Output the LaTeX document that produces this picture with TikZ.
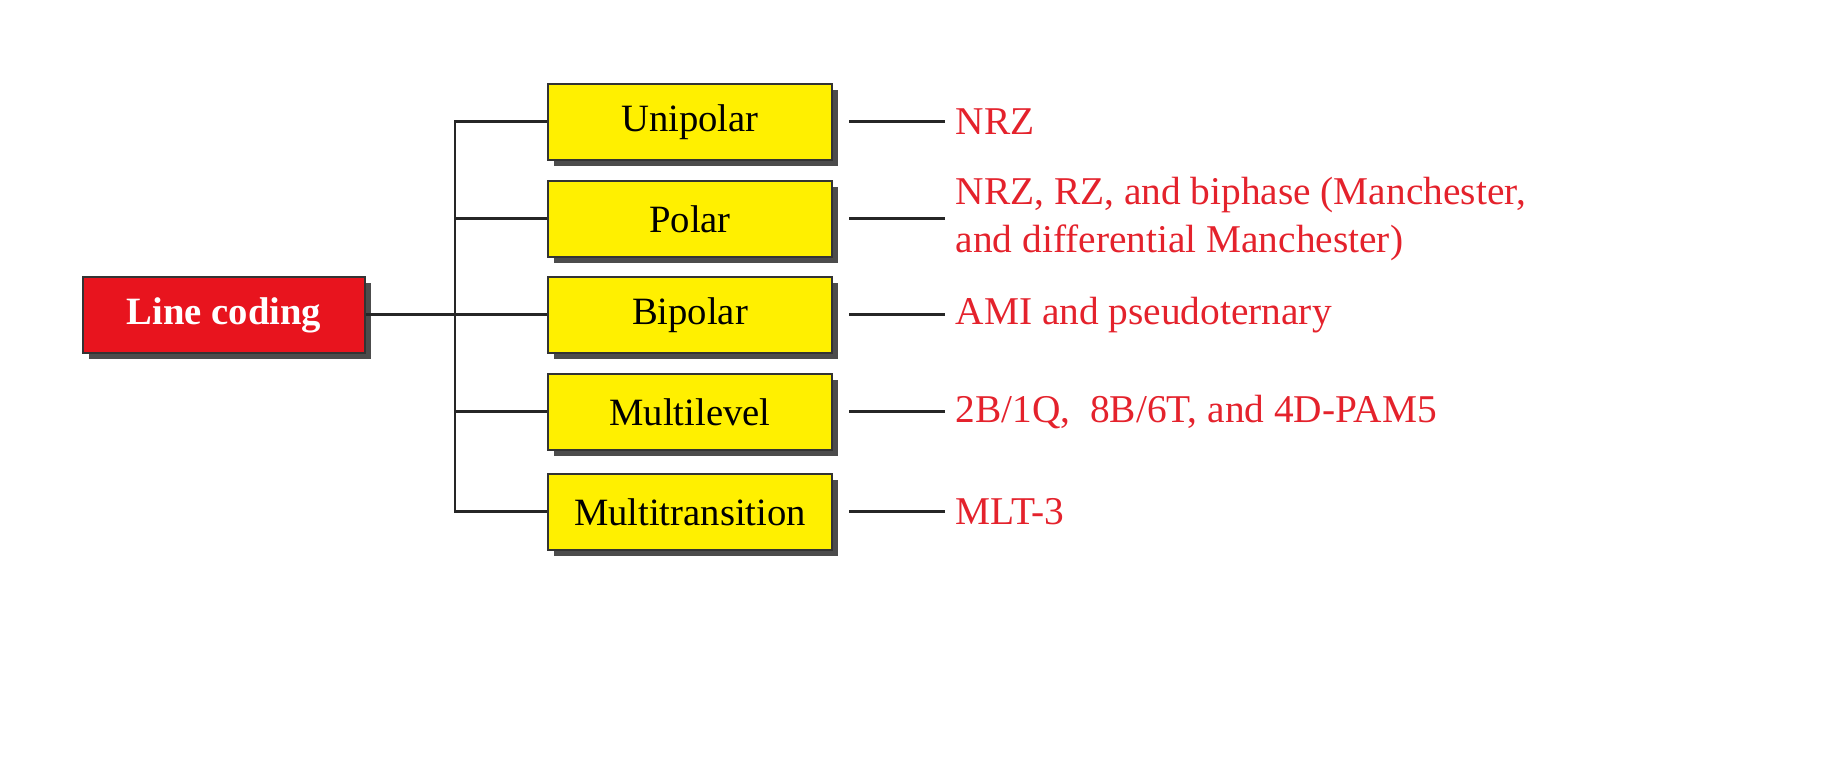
\documentclass[tikz,border=0pt]{standalone}
\usepackage{fontspec}
\setmainfont{Liberation Serif}
\usetikzlibrary{shadows}
\definecolor{boxyellow}{RGB}{255,240,0}
\definecolor{boxred}{RGB}{232,20,30}
\definecolor{txtred}{RGB}{228,34,44}
\begin{document}
\begin{tikzpicture}[
  box/.style={draw=black!80, line width=0.8pt, minimum width=2.84cm, minimum height=0.76cm, inner sep=0pt,
    font=\fontsize{11}{13}\selectfont,
    drop shadow={shadow xshift=0.06cm, shadow yshift=-0.06cm, fill=black!70, opacity=1}},
  kind/.style={box, fill=boxyellow},
  root/.style={box, fill=boxred, text=white, minimum width=2.82cm, font=\fontsize{11}{13}\selectfont\bfseries},
  codes/.style={anchor=west, inner sep=0.1cm, text=txtred, align=left, font=\fontsize{11.2}{13.5}\selectfont},
  wire/.style={draw=black!85, line width=0.85pt}
]
\useasboundingbox (0,0) rectangle (18.27,7.74);
% root
\node[root] (lc) at (2.24,4.59){Line coding};
\coordinate (jn) at (4.55,4.59);
% kinds of line coding
\node[kind] (uni) at (6.90,6.52){Unipolar};
\node[kind] (pol) at (6.90,5.55){Polar};
\node[kind] (bip) at (6.90,4.59){Bipolar};
\node[kind] (mlv) at (6.90,3.62){Multilevel};
\node[kind] (mtr) at (6.90,2.62){Multitransition};
% schemes
\node[codes] (tuni) at (9.45,6.52){NRZ};
\node[codes] (tpol) at (9.45,5.55){NRZ, RZ, and biphase (Manchester,\\and differential Manchester)};
\node[codes] (tbip) at (9.45,4.59){AMI and pseudoternary};
\node[codes] (tmlv) at (9.45,3.62){2B/1Q,\ \ 8B/6T, and 4D-PAM5};
\node[codes] (tmtr) at (9.45,2.62){MLT-3};
% tree
\draw[wire] (lc.east) -- (bip.west);
\draw[wire] (uni.west) -| (jn) |- (mtr.west);
\draw[wire] (pol.west) -| (jn);
\draw[wire] (mlv.west) -| (jn);
\foreach \k in {uni,pol,bip,mlv,mtr}
  \draw[wire] ([xshift=0.16cm]\k.east) -- (t\k.west);
\end{tikzpicture}
\end{document}
